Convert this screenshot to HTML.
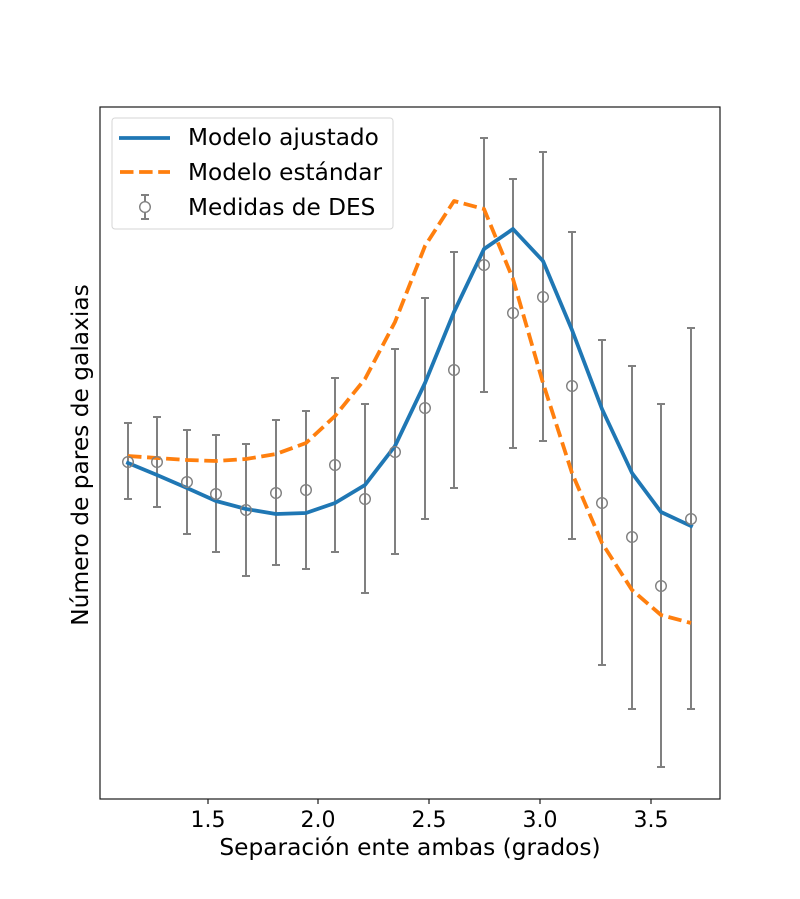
<!DOCTYPE html>
<html>
<head>
<meta charset="utf-8">
<style>
  html, body { margin: 0; padding: 0; background: #ffffff; }
  svg { display: block; }
  text { font-family: "DejaVu Sans", "Liberation Sans", sans-serif; fill: #000; }
</style>
</head>
<body>
<svg width="800" height="899" viewBox="0 0 800 899" xmlns="http://www.w3.org/2000/svg">
  <rect x="0" y="0" width="800" height="899" fill="#ffffff"/>

  <!-- error bars -->
  <g stroke="#808080" stroke-width="2" fill="none">
    <path d="M128 423V499M124 423H132M124 499H132"/>
    <path d="M157 417V507M153 417H161M153 507H161"/>
    <path d="M187 430V534M183 430H191M183 534H191"/>
    <path d="M216 435V552M212 435H220M212 552H220"/>
    <path d="M246 444V576M242 444H250M242 576H250"/>
    <path d="M276 420V565M272 420H280M272 565H280"/>
    <path d="M306 411V569M302 411H310M302 569H310"/>
    <path d="M335 378V552M331 378H339M331 552H339"/>
    <path d="M365 404V593M361 404H369M361 593H369"/>
    <path d="M395 349V554M391 349H399M391 554H399"/>
    <path d="M425 298V519M421 298H429M421 519H429"/>
    <path d="M454 252V488M450 252H458M450 488H458"/>
    <path d="M484 138V392M480 138H488M480 392H488"/>
    <path d="M513 179V448M509 179H517M509 448H517"/>
    <path d="M543 152V441M539 152H547M539 441H547"/>
    <path d="M572 232V539M568 232H576M568 539H576"/>
    <path d="M602 340V665M598 340H606M598 665H606"/>
    <path d="M632 366V709M628 366H636M628 709H636"/>
    <path d="M661 404V767M657 404H665M657 767H665"/>
    <path d="M691 328V709M687 328H695M687 709H695"/>
  </g>

  <!-- blue fitted model -->
  <polyline fill="none" stroke="#1f77b4" stroke-width="3.8" stroke-linejoin="round" stroke-linecap="square"
    points="128,463 157,475 187,488 216,501 246,509 276,514 306,513 335,503 365,485 395,446 425,383 454,312 484,249 513,229 543,261 572,330 602,409 632,473 661,512 691,526"/>

  <!-- orange standard model -->
  <polyline fill="none" stroke="#ff7f0e" stroke-width="3.8" stroke-dasharray="13.5,5.6" stroke-linejoin="round"
    points="128,456 157,458 187,460 216,461 246,459 276,454 306,443 335,416 365,379 395,322 425,246 454,201 484,209 513,279 543,383 572,473 602,543 632,590 661,615 691,623"/>

  <!-- markers -->
  <g stroke="#808080" stroke-width="1.4" fill="none">
    <circle cx="128" cy="462" r="5.3"/>
    <circle cx="157" cy="462" r="5.3"/>
    <circle cx="187" cy="482" r="5.3"/>
    <circle cx="216" cy="494" r="5.3"/>
    <circle cx="246" cy="510" r="5.3"/>
    <circle cx="276" cy="493" r="5.3"/>
    <circle cx="306" cy="490" r="5.3"/>
    <circle cx="335" cy="465" r="5.3"/>
    <circle cx="365" cy="499" r="5.3"/>
    <circle cx="395" cy="452" r="5.3"/>
    <circle cx="425" cy="408" r="5.3"/>
    <circle cx="454" cy="370" r="5.3"/>
    <circle cx="484" cy="265" r="5.3"/>
    <circle cx="513" cy="313" r="5.3"/>
    <circle cx="543" cy="297" r="5.3"/>
    <circle cx="572" cy="386" r="5.3"/>
    <circle cx="602" cy="503" r="5.3"/>
    <circle cx="632" cy="537" r="5.3"/>
    <circle cx="661" cy="586" r="5.3"/>
    <circle cx="691" cy="519" r="5.3"/>
  </g>

  <!-- axes frame -->
  <rect x="100" y="107" width="620" height="692" fill="none" stroke="#1a1a1a" stroke-width="1.2"/>

  <!-- x ticks -->
  <g stroke="#1a1a1a" stroke-width="1.2">
    <line x1="208" y1="799" x2="208" y2="804"/>
    <line x1="318" y1="799" x2="318" y2="804"/>
    <line x1="429" y1="799" x2="429" y2="804"/>
    <line x1="540" y1="799" x2="540" y2="804"/>
    <line x1="651" y1="799" x2="651" y2="804"/>
  </g>
  <g font-size="22" text-anchor="middle">
    <text x="208" y="827">1.5</text>
    <text x="318" y="827">2.0</text>
    <text x="429" y="827">2.5</text>
    <text x="540" y="827">3.0</text>
    <text x="651" y="827">3.5</text>
  </g>

  <!-- axis labels -->
  <text x="410" y="855" font-size="23.3" text-anchor="middle">Separación ente ambas (grados)</text>
  <text x="0" y="0" font-size="23.3" text-anchor="middle" transform="translate(88,455) rotate(-90)">Número de pares de galaxias</text>

  <!-- legend -->
  <rect x="112" y="118" width="281" height="111" rx="3" ry="3" fill="#ffffff" fill-opacity="0.85" stroke="#d6d6d6" stroke-width="1"/>
  <line x1="119" y1="138" x2="170" y2="138" stroke="#1f77b4" stroke-width="3.8"/>
  <line x1="120" y1="172" x2="170" y2="172" stroke="#ff7f0e" stroke-width="3.8" stroke-dasharray="13.5,5.6"/>
  <g stroke="#808080" stroke-width="2" fill="none">
    <path d="M145 195V219M141 195H149M141 219H149"/>
  </g>
  <circle cx="145" cy="207" r="5.3" fill="#ffffff" stroke="#808080" stroke-width="1.4"/>
  <g font-size="23.2">
    <text x="188" y="145">Modelo ajustado</text>
    <text x="188" y="180">Modelo estándar</text>
    <text x="188" y="215">Medidas de DES</text>
  </g>
</svg>
</body>
</html>
